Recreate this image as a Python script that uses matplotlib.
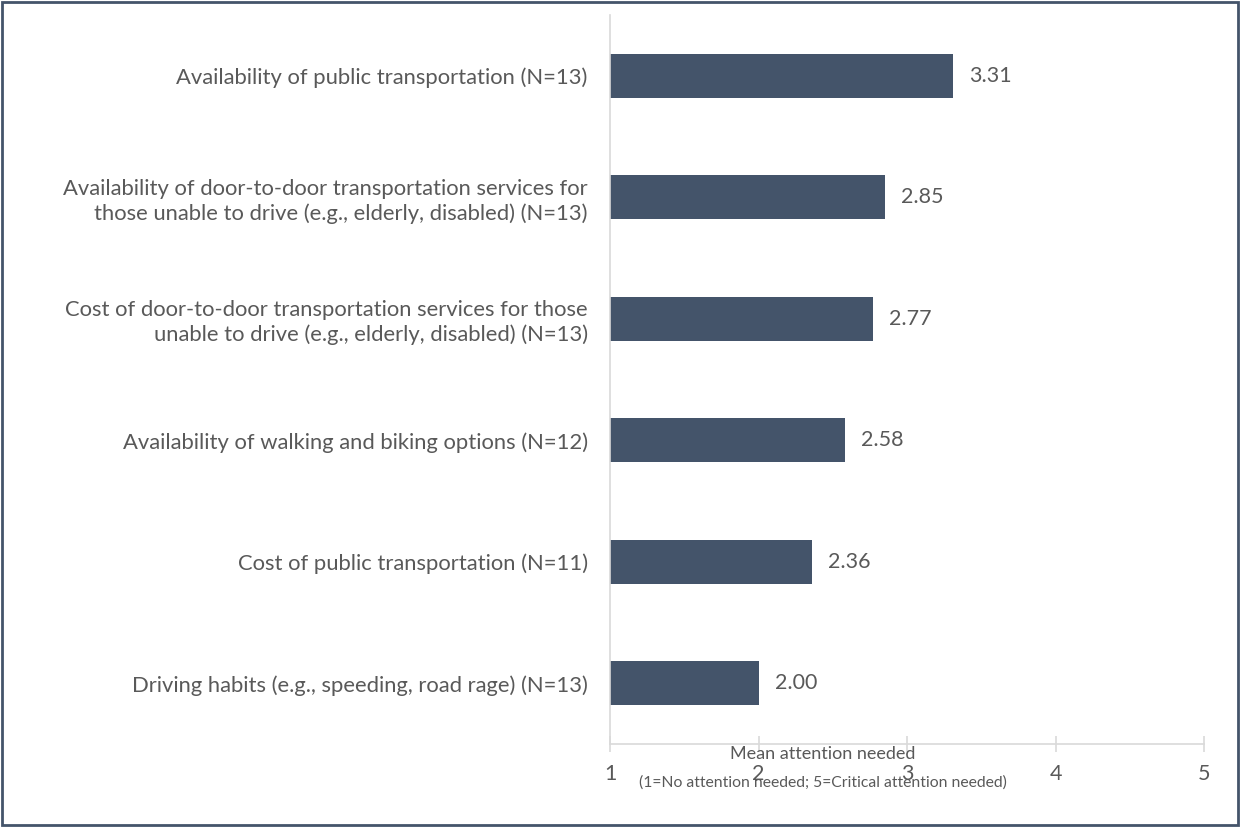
import matplotlib.pyplot as plt
from matplotlib.patches import Rectangle

categories = [
    "Availability of public transportation (N=13)",
    "Availability of door-to-door transportation services for\nthose unable to drive (e.g., elderly, disabled) (N=13)",
    "Cost of door-to-door transportation services for those\nunable to drive (e.g., elderly, disabled) (N=13)",
    "Availability of walking and biking options (N=12)",
    "Cost of public transportation (N=11)",
    "Driving habits (e.g., speeding, road rage) (N=13)",
]
values = [3.31, 2.85, 2.77, 2.58, 2.36, 2.00]
xticks = [1, 2, 3, 4, 5]

bar_color = "#44546A"
text_color = "#595959"
grid_color = "#D9D9D9"
font = ["Lato", "DejaVu Sans"]
plt.rcParams["font.family"] = font

fig = plt.figure(figsize=(12.4, 8.27), dpi=100)
ax = fig.add_axes([610 / 1240, 1 - 744 / 827, (1204 - 610) / 1240, (744 - 15) / 827])

ypos = list(range(len(categories)))[::-1]
ax.barh(ypos, [v - 1 for v in values], left=1, height=0.36, color=bar_color)
for y, v in zip(ypos, values):
    ax.text(v + 0.11, y, f"{v:.2f}", va="center", ha="left", fontsize=15.5, color=text_color)

ax.set_xlim(1, 5)
ax.set_ylim(-0.5, len(categories) - 0.5)
ax.set_xticks(xticks)
ax.set_xticklabels([str(t) for t in xticks])
ax.set_yticks(ypos)
ax.set_yticklabels(categories, fontsize=15.8, color=text_color, linespacing=1.25)
ax.tick_params(axis="y", length=0, pad=16)
ax.tick_params(axis="x", direction="inout", length=11, width=1.2, color=grid_color,
               labelsize=15.5, labelcolor=text_color, pad=9)
for s in ["top", "right"]:
    ax.spines[s].set_visible(False)
ax.spines["left"].set_color(grid_color)
ax.spines["bottom"].set_color(grid_color)
ax.spines["left"].set_linewidth(1.2)
ax.spines["bottom"].set_linewidth(1.2)

# axis title sits off-centre, overlapping the tick labels as in the original
fig.text(823 / 1240, 1 - 754 / 827, "Mean attention needed", ha="center", va="center",
         fontsize=13, color=text_color)
fig.text(823 / 1240, 1 - 783 / 827, "(1=No attention needed; 5=Critical attention needed)",
         ha="center", va="center", fontsize=11.3, color=text_color)

fig.patches.append(Rectangle((0.002, 0.003), 0.996, 0.994, transform=fig.transFigure,
                             fill=False, edgecolor="#44546A", linewidth=2))

fig.savefig("out.png", dpi=100)
